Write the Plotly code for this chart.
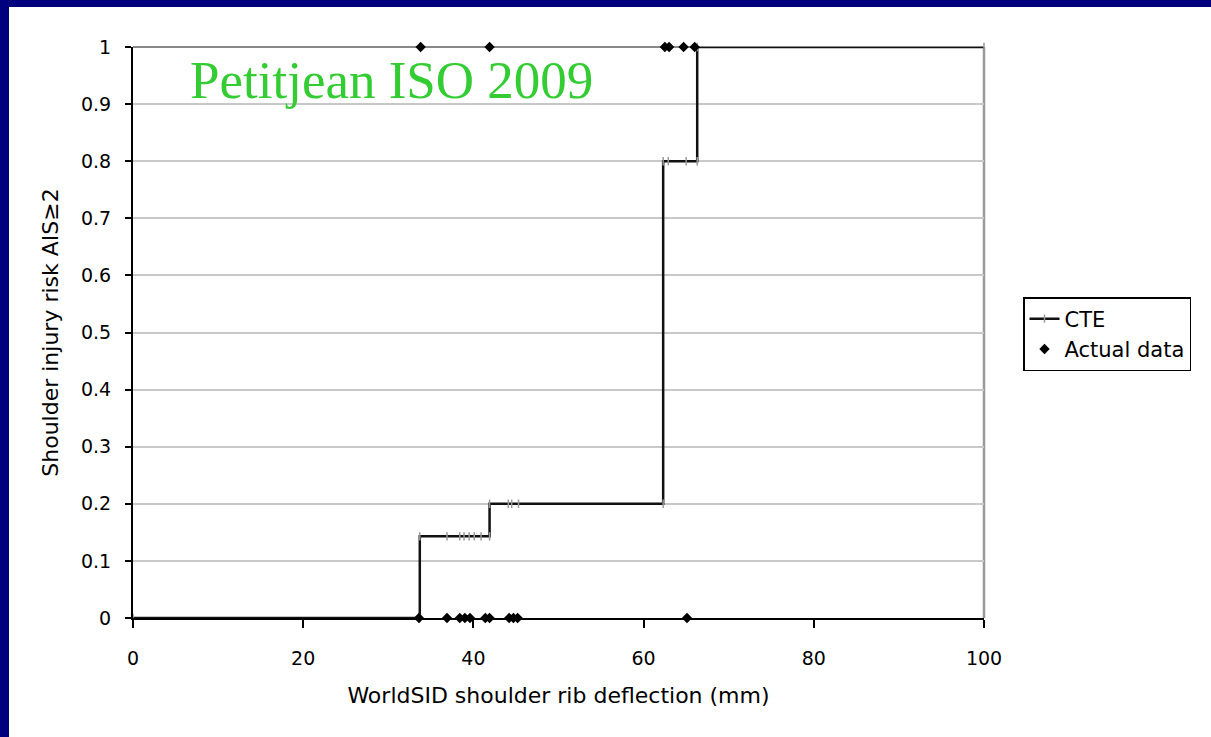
import plotly.graph_objects as go

# CTE step curve (x in mm, y risk)
cte_x = [0, 33.7, 33.7, 36.9, 38.4, 38.9, 39.5, 40.1, 40.9, 41.9, 41.9, 44.1, 44.5, 45.3,
         62.3, 62.3, 62.9, 65.0, 66.3, 66.3, 100]
cte_y = [0, 0, 0.143, 0.143, 0.143, 0.143, 0.143, 0.143, 0.143, 0.143, 0.2, 0.2, 0.2, 0.2,
         0.2, 0.8, 0.8, 0.8, 0.8, 1.0, 1.0]

# Actual data points
act_x = [33.8, 41.9, 62.5, 63.0, 64.7, 66.0,
         33.6, 36.9, 38.4, 39.0, 39.6, 41.4, 41.9, 44.2, 44.7, 45.2, 65.1]
act_y = [1, 1, 1, 1, 1, 1,
         0, 0, 0, 0, 0, 0, 0, 0, 0, 0, 0]

x_ticks = [0, 20, 40, 60, 80, 100]
y_ticks = [0, 0.1, 0.2, 0.3, 0.4, 0.5, 0.6, 0.7, 0.8, 0.9, 1]
y_tick_text = ["0", "0.1", "0.2", "0.3", "0.4", "0.5", "0.6", "0.7", "0.8", "0.9", "1"]

W, H = 1211, 737
L, R, T, B = 133, 227, 47, 119
pw, ph = W - L - R, H - T - B

def px_x(p):
    return (p - L) / pw

def px_y(p):
    return (H - B - p) / ph

font = "DejaVu Sans, Verdana, sans-serif"

fig = go.Figure()
fig.add_trace(go.Scatter(
    x=cte_x, y=cte_y, mode="lines+markers", name="CTE",
    line=dict(color="#111111", width=2.5),
    marker=dict(symbol="line-ns", size=6, line=dict(color="#999999", width=1.5), color="#999999"),
    cliponaxis=False,
))
fig.add_trace(go.Scatter(
    x=act_x, y=act_y, mode="markers", name="Actual data",
    marker=dict(symbol="diamond", size=8, color="black"),
    cliponaxis=False,
))

shapes = [
    # white slide region
    dict(type="rect", xref="paper", yref="paper", layer="below",
         x0=px_x(9), x1=px_x(1215), y0=px_y(740), y1=px_y(7),
         fillcolor="white", line=dict(width=0)),
    # gray top and right border
    dict(type="line", xref="paper", yref="paper", x0=0, x1=1, y0=1, y1=1,
         line=dict(color="#888888", width=2), layer="below"),
    dict(type="line", xref="paper", yref="paper", x0=1, x1=1, y0=0, y1=1,
         line=dict(color="#999999", width=2.5), layer="below"),
]

fig.update_layout(
    width=W, height=H,
    margin=dict(l=L, r=R, t=T, b=B),
    paper_bgcolor="#00007f",
    plot_bgcolor="rgba(0,0,0,0)",
    shapes=shapes,
    showlegend=True,
    legend=dict(x=px_x(1023), y=px_y(297), xanchor="left", yanchor="top",
                bgcolor="white", bordercolor="black", borderwidth=1.5,
                font=dict(family=font, size=21, color="black"),
                tracegroupgap=0, itemwidth=30),
    xaxis=dict(range=[0, 100], tickvals=x_ticks, ticks="outside", ticklen=8,
               tickwidth=2, tickcolor="black", showline=True, linecolor="black",
               linewidth=2, showgrid=False, zeroline=False,
               ticklabelstandoff=14,
               tickfont=dict(family=font, size=19, color="black"),
               title=dict(text="WorldSID shoulder rib deflection (mm)",
                          font=dict(family=font, size=22, color="black"), standoff=20)),
    yaxis=dict(range=[0, 1], tickvals=y_ticks, ticktext=y_tick_text, ticks="outside",
               ticklen=6, tickwidth=2, tickcolor="black", showline=True,
               linecolor="black", linewidth=2, showgrid=True, gridcolor="#c8c8c8",
               gridwidth=2, zeroline=False,
               ticklabelstandoff=10,
               tickfont=dict(family=font, size=19, color="black"),
               title=dict(text="Shoulder injury risk AIS≥2",
                          font=dict(family=font, size=22, color="black"), standoff=16)),
    annotations=[dict(text="Petitjean ISO 2009", xref="paper", yref="paper",
                      x=px_x(188), y=px_y(80), xanchor="left", yanchor="middle",
                      showarrow=False,
                      font=dict(family="Liberation Serif, Times New Roman, serif",
                                size=53, color="#33cc33"))],
)

fig.write_html("out.html")
